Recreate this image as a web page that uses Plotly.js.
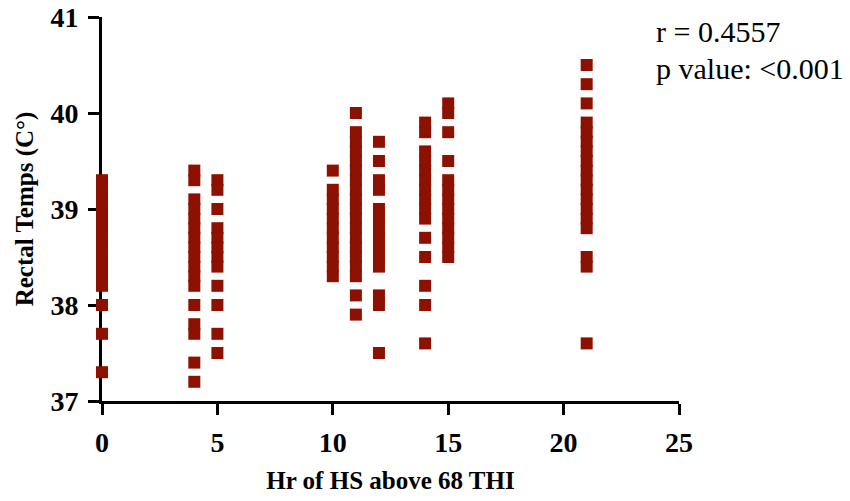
<!DOCTYPE html>
<html>
<head>
<meta charset="utf-8">
<script src="https://cdn.plot.ly/plotly-3.0.1.min.js"></script>
<style>html,body{margin:0;padding:0;background:#fff;}#chart{width:850px;height:501px;}</style>
</head>
<body>
<div id="chart"></div>
<script>
// Hours of heat stress above 68 THI for each column of points
const hours = [0, 4, 5, 10, 11, 12, 14, 15, 21];
// Rectal temperatures (°C) read for each hours group
const temps0  = [39.3, 39.2, 39.1, 39.0, 38.9, 38.8, 38.7, 38.6, 38.5, 38.4, 38.3, 38.2, 38.0, 37.7, 37.3];
const temps4  = [39.4, 39.3, 39.1, 39.0, 38.9, 38.8, 38.7, 38.6, 38.5, 38.4, 38.3, 38.2, 38.0, 37.8, 37.7, 37.4, 37.2];
const temps5  = [39.3, 39.2, 39.0, 38.8, 38.7, 38.6, 38.5, 38.4, 38.2, 38.0, 37.7, 37.5];
const temps10 = [39.4, 39.2, 39.1, 39.0, 38.9, 38.8, 38.7, 38.6, 38.5, 38.4, 38.3];
const temps11 = [40.0, 39.8, 39.7, 39.6, 39.5, 39.4, 39.3, 39.2, 39.1, 39.0, 38.9, 38.8, 38.7, 38.6, 38.5, 38.4, 38.3, 38.1, 37.9];
const temps12 = [39.7, 39.5, 39.3, 39.2, 39.0, 38.9, 38.8, 38.7, 38.6, 38.5, 38.4, 38.1, 38.0, 37.5];
const temps14 = [39.9, 39.8, 39.6, 39.5, 39.4, 39.3, 39.2, 39.1, 39.0, 38.9, 38.7, 38.5, 38.2, 38.0, 37.6];
const temps15 = [40.1, 40.0, 39.8, 39.5, 39.3, 39.2, 39.1, 39.0, 38.9, 38.8, 38.7, 38.6, 38.5];
const temps21 = [40.5, 40.3, 40.1, 39.9, 39.8, 39.7, 39.6, 39.5, 39.4, 39.3, 39.2, 39.1, 39.0, 38.9, 38.8, 38.5, 38.4, 37.6];
const tempGroups = [temps0, temps4, temps5, temps10, temps11, temps12, temps14, temps15, temps21];
// Axis ticks and annotation texts
const xTicks = [0, 5, 10, 15, 20, 25];
const yTicks = [37, 38, 39, 40, 41];
const statLines = ["r = 0.4557", "p value: <0.001"];

const xs = [], ys = [];
hours.forEach((h, i) => tempGroups[i].forEach(t => { xs.push(h); ys.push(t); }));

const serif = "'Liberation Serif', 'Times New Roman', serif";
const trace = {
  x: xs, y: ys, type: 'scatter', mode: 'markers', cliponaxis: false,
  marker: {symbol: 'square', size: 12, color: '#8C1100', line: {width: 0}},
  hoverinfo: 'x+y'
};
const layout = {
  width: 850, height: 501,
  margin: {l: 102, r: 171, t: 17, b: 100},
  paper_bgcolor: '#fff', plot_bgcolor: '#fff',
  showlegend: false,
  font: {family: serif, color: '#000'},
  xaxis: {
    range: [0, 25], tickvals: xTicks, ticktext: xTicks.map(String),
    showgrid: false, zeroline: false, showline: true, linecolor: '#000', linewidth: 3,
    ticks: 'outside', ticklen: 11, tickwidth: 3, tickcolor: '#000',
    tickfont: {family: serif, size: 28, color: '#000', weight: 'bold'},
    ticklabelstandoff: 3,
    layer: 'below traces',
    title: {text: '<b>Hr of HS above 68 THI</b>', font: {family: serif, size: 25, color: '#000'}, standoff: 15},
    automargin: false
  },
  yaxis: {
    range: [37, 41], tickvals: yTicks, ticktext: yTicks.map(String),
    showgrid: false, zeroline: false, showline: true, linecolor: '#000', linewidth: 3,
    ticks: 'outside', ticklen: 11, tickwidth: 3, tickcolor: '#000',
    tickfont: {family: serif, size: 28, color: '#000', weight: 'bold'},
    ticklabelstandoff: 4,
    layer: 'below traces',
    title: {text: '<b>Rectal Temps (C°)</b>', font: {family: serif, size: 25, color: '#000'}, standoff: 10},
    automargin: false
  },
  annotations: statLines.map((t, i) => ({
    text: t, xref: 'paper', yref: 'paper', x: 0.957, y: i === 0 ? 0.961 : 0.865,
    xanchor: 'left', yanchor: 'middle', showarrow: false,
    font: {family: serif, size: 30, color: '#000'}
  }))
};
Plotly.newPlot('chart', [trace], layout, {displayModeBar: false, staticPlot: true});
</script>
</body>
</html>
